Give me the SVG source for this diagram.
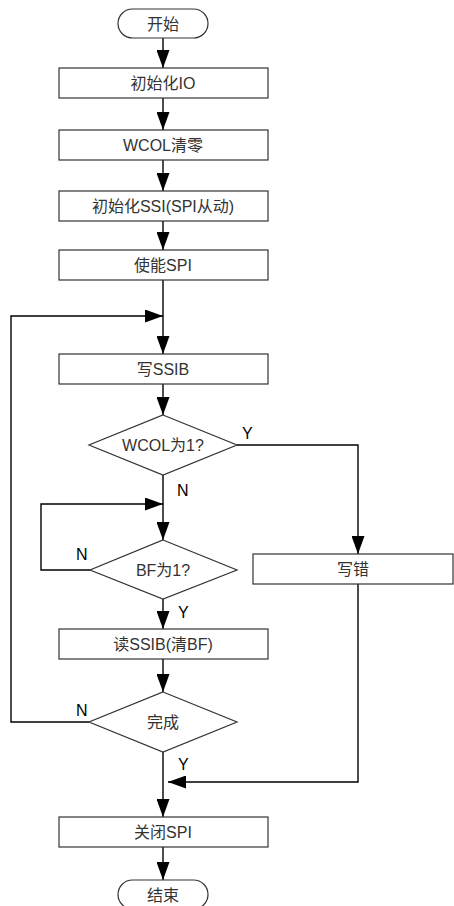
<svg xmlns="http://www.w3.org/2000/svg" width="454" height="906" viewBox="0 0 454 906">
<defs>
<marker id="ah" markerWidth="18" markerHeight="13" refX="18" refY="6.5" orient="auto" markerUnits="userSpaceOnUse">
<path d="M0,0 L18,6.5 L0,13 Z" fill="#000"/>
</marker>
</defs>
<style>
.box{fill:#fff;stroke:#333;stroke-width:1.2}
.t{font-family:"Liberation Sans","Noto Sans CJK SC",sans-serif;font-size:16px;fill:#333;text-anchor:middle;dominant-baseline:central}
.l{font-family:"Liberation Sans",sans-serif;font-size:16px;fill:#000;dominant-baseline:central}
.c{fill:none;stroke:#000;stroke-width:1.4}
</style>
<rect width="454" height="906" fill="#fff"/>
<g id="connectors">
<line class="c" x1="163" y1="38" x2="163" y2="68" marker-end="url(#ah)"/>
<line class="c" x1="163" y1="98" x2="163" y2="130" marker-end="url(#ah)"/>
<line class="c" x1="163" y1="160" x2="163" y2="191" marker-end="url(#ah)"/>
<line class="c" x1="163" y1="221" x2="163" y2="250" marker-end="url(#ah)"/>
<line class="c" x1="163" y1="280" x2="163" y2="354" marker-end="url(#ah)"/>
<line class="c" x1="163" y1="384" x2="163" y2="415" marker-end="url(#ah)"/>
<polyline class="c" points="89,722 11,722 11,316 163,316" marker-end="url(#ah)"/>
<polyline class="c" points="237,445 358,445 358,554" marker-end="url(#ah)"/>
<line class="c" x1="163" y1="475" x2="163" y2="540" marker-end="url(#ah)"/>
<polyline class="c" points="90,570 41,570 41,504 163,504" marker-end="url(#ah)"/>
<line class="c" x1="163" y1="599" x2="163" y2="629" marker-end="url(#ah)"/>
<line class="c" x1="163" y1="659" x2="163" y2="692" marker-end="url(#ah)"/>
<line class="c" x1="163" y1="752" x2="163" y2="817" marker-end="url(#ah)"/>
<polyline class="c" points="358,584 358,782 168,782" marker-end="url(#ah)"/>
<line class="c" x1="163" y1="847" x2="163" y2="880" marker-end="url(#ah)"/>
<text class="l" x="242" y="433">Y</text>
<text class="l" x="177" y="490">N</text>
<text class="l" x="76" y="554">N</text>
<text class="l" x="178" y="612">Y</text>
<text class="l" x="76" y="710">N</text>
<text class="l" x="178" y="764">Y</text>
</g>
<g id="start"><rect class="box" x="118" y="9" width="90" height="29" rx="14.5"/><text class="t" x="163" y="24">开始</text></g>
<g id="initio"><rect class="box" x="59" y="68" width="209" height="30"/><text class="t" x="163" y="83">初始化IO</text></g>
<g id="wcolclr"><rect class="box" x="59" y="130" width="209" height="30"/><text class="t" x="163" y="145">WCOL清零</text></g>
<g id="initssi"><rect class="box" x="59" y="191" width="209" height="30"/><text class="t" x="163" y="206">初始化SSI(SPI从动)</text></g>
<g id="enspi"><rect class="box" x="59" y="250" width="209" height="30"/><text class="t" x="163" y="265">使能SPI</text></g>
<g id="writessib"><rect class="box" x="59" y="354" width="209" height="30"/><text class="t" x="163" y="369">写SSIB</text></g>
<g id="wcolq"><polygon class="box" points="163,415 237,445 163,475 89,445"/><text class="t" x="163" y="445">WCOL为1?</text></g>
<g id="bfq"><polygon class="box" points="163,540 237,570 163,599 90,570"/><text class="t" x="163" y="570">BF为1?</text></g>
<g id="writeerr"><rect class="box" x="253" y="554" width="200" height="30"/><text class="t" x="353" y="569">写错</text></g>
<g id="readssib"><rect class="box" x="59" y="629" width="209" height="30"/><text class="t" x="163" y="644">读SSIB(清BF)</text></g>
<g id="doneq"><polygon class="box" points="163,692 237,722 163,752 89,722"/><text class="t" x="163" y="722">完成</text></g>
<g id="closespi"><rect class="box" x="59" y="817" width="209" height="30"/><text class="t" x="163" y="832">关闭SPI</text></g>
<g id="end"><rect class="box" x="118" y="880" width="90" height="29" rx="14.5"/><text class="t" x="163" y="895">结束</text></g>
</svg>
